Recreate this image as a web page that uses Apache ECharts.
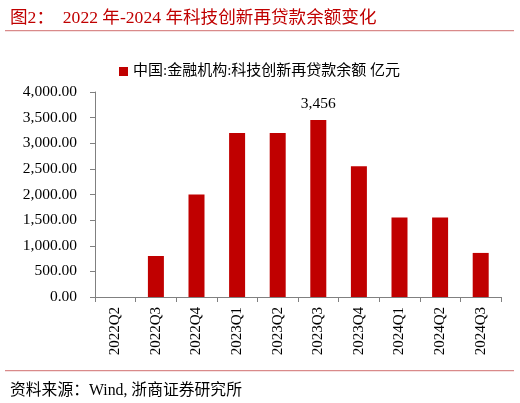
<!DOCTYPE html>
<html>
<head>
<meta charset="utf-8">
<script src="https://cdn.jsdelivr.net/npm/echarts@6/dist/echarts.min.js"></script>
<style>
  html, body { margin: 0; padding: 0; background: #fff; }
  #chart { width: 520px; height: 403px; }
</style>
</head>
<body>
<div id="chart"></div>
<script>
var quarters = ["2022Q2", "2022Q3", "2022Q4", "2023Q1", "2023Q2", "2023Q3", "2023Q4", "2024Q1", "2024Q2", "2024Q3"];
var balance = [0, 800, 2000, 3200, 3200, 3456, 2550, 1550, 1550, 860];
var yTicks = [0, 500, 1000, 1500, 2000, 2500, 3000, 3500, 4000];
var seriesName = "中国:金融机构:科技创新再贷款余额 亿元";

var serif = "'Liberation Serif', 'Times New Roman', 'Noto Sans CJK SC', serif";
var red = "#C00000";

var myChart = echarts.init(document.getElementById("chart"));

// 只在最高点标数值
var barData = [];
var maxIdx = balance.indexOf(Math.max.apply(null, balance));
for (var i = 0; i < balance.length; i++) {
    barData.push({
        value: balance[i],
        label: { show: i == maxIdx }
    });
}

myChart.setOption({
    animation: false,
    title: [
        {
            text: "图2：  2022 年-2024 年科技创新再贷款余额变化",
            left: 5,
            top: 5,
            textStyle: { color: red, fontFamily: serif, fontSize: 17.6, fontWeight: "normal" }
        },
        {
            text: "资料来源：Wind, 浙商证券研究所",
            left: 5,
            top: 378,
            textStyle: { color: "#000", fontFamily: serif, fontSize: 15.8, fontWeight: "normal" }
        }
    ],
    graphic: [
        { type: "rect", shape: { x: 5, y: 30, width: 509, height: 1.2 }, style: { fill: "#D98A8A" } },
        { type: "rect", shape: { x: 5, y: 370, width: 509, height: 1.2 }, style: { fill: "#D98A8A" } }
    ],
    legend: {
        top: 59,
        left: 114,
        itemWidth: 9,
        itemHeight: 9,
        itemGap: 6,
        icon: "rect",
        textStyle: { fontFamily: serif, fontSize: 15, color: "#000" },
        data: [seriesName]
    },
    grid: { left: 95, right: 19, top: 92, bottom: 106 },
    xAxis: {
        type: "category",
        data: quarters,
        boundaryGap: true,
        axisLine: { lineStyle: { color: "#808080", width: 1 } },
        axisTick: { show: true, alignWithLabel: false, length: 5, lineStyle: { color: "#808080" } },
        axisLabel: { rotate: 90, margin: 10, color: "#000", fontFamily: serif, fontSize: 15 }
    },
    yAxis: {
        type: "value",
        min: yTicks[0],
        max: yTicks[yTicks.length - 1],
        interval: 500,
        axisLine: { show: true, lineStyle: { color: "#808080", width: 1 } },
        axisTick: { show: true, length: 5, lineStyle: { color: "#808080" } },
        splitLine: { show: false },
        axisLabel: {
            margin: 18,
            color: "#000",
            fontFamily: serif,
            fontSize: 15.5,
            formatter: function (v) {
                return v.toLocaleString("en-US", { minimumFractionDigits: 2, maximumFractionDigits: 2 });
            }
        }
    },
    series: [
        {
            name: seriesName,
            type: "bar",
            barWidth: 16,
            data: barData,
            itemStyle: { color: red },
            label: {
                position: "top",
                distance: 8,
                color: "#000",
                fontFamily: serif,
                fontSize: 15.5,
                formatter: function (p) {
                    return p.value.toLocaleString("en-US");
                }
            }
        }
    ]
});
</script>
</body>
</html>
